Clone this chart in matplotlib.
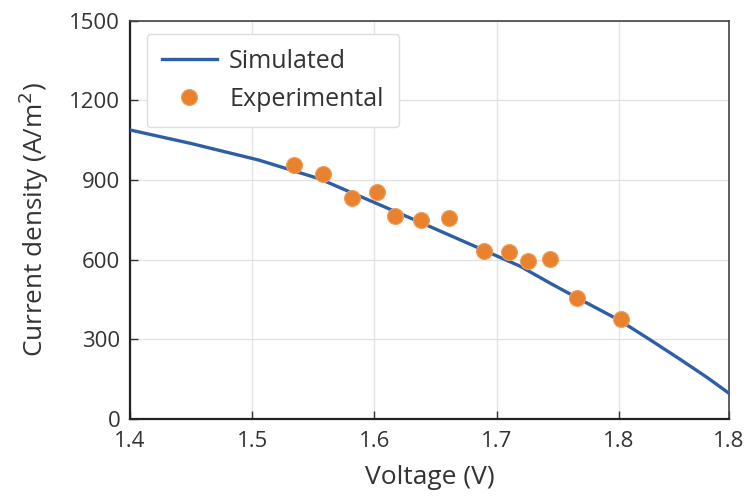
import matplotlib
matplotlib.use('Agg')
import matplotlib.pyplot as plt

# simulated curve
sim_voltage = [1.400, 1.450, 1.505, 1.555, 1.637, 1.719, 1.744,
               1.766, 1.800, 1.825, 1.850, 1.872, 1.890]
sim_current = [1089, 1038, 976, 905, 742, 576, 511,
               456, 373, 300, 225, 157, 97]

# experimental points
exp_voltage = [1.534, 1.558, 1.582, 1.602, 1.617, 1.638, 1.661,
               1.690, 1.710, 1.726, 1.744, 1.766, 1.802]
exp_current = [957, 922, 832, 854, 765, 749, 759,
               633, 628, 597, 603, 455, 376]

x_ticks = [1.4, 1.5, 1.6, 1.7, 1.8, 1.89]
x_tick_labels = ['1.4', '1.5', '1.6', '1.7', '1.8', '1.8']
y_ticks = [0, 300, 600, 900, 1200, 1500]

plt.rcParams['font.family'] = ['Open Sans', 'DejaVu Sans']

fig = plt.figure(figsize=(7.53, 4.97), dpi=100)
ax = fig.add_axes([0.1726, 0.157, 0.7954, 0.801])

ax.plot(sim_voltage, sim_current, color='#2e5fa6', linewidth=2.4,
        label='Simulated', zorder=3)
ax.plot(exp_voltage, exp_current, linestyle='none', marker='o',
        markersize=11.5, color='#e8822e', markeredgecolor='#f0a060',
        markeredgewidth=0.8, label='Experimental', zorder=4)

ax.set_xlim(1.4, 1.89)
ax.set_ylim(0, 1500)
ax.set_xticks(x_ticks)
ax.set_xticklabels(x_tick_labels)
ax.set_yticks(y_ticks)

ax.grid(True, color='#e3e3e3', linewidth=1.0)
ax.set_axisbelow(True)
ax.tick_params(direction='in', length=6, width=1.0, labelsize=16,
               colors='#333333')
ax.tick_params(axis='x', pad=9)
ax.tick_params(axis='y', pad=7)
for side in ['left', 'bottom']:
    ax.spines[side].set_color('#222222')
    ax.spines[side].set_linewidth(1.6)
for side in ['top', 'right']:
    ax.spines[side].set_color('#444444')
    ax.spines[side].set_linewidth(1.2)

ax.set_xlabel('Voltage (V)', fontsize=19, color='#333333', labelpad=9)
ax.set_ylabel('Current density (A/m$^2$)', fontsize=18.8, color='#333333',
              labelpad=13)

leg = ax.legend(loc='upper left', fontsize=18, frameon=True,
                borderpad=0.6, handlelength=2.2, handletextpad=0.5,
                labelspacing=0.5, borderaxespad=0,
                bbox_to_anchor=(0.028, 0.967))
leg.get_frame().set_edgecolor('#dddddd')
leg.get_frame().set_linewidth(1.0)
leg.get_frame().set_alpha(1.0)
leg.get_frame().set_boxstyle('round', pad=0, rounding_size=0.15)
for t in leg.get_texts():
    t.set_color('#333333')

fig.savefig('out.png', dpi=100)
